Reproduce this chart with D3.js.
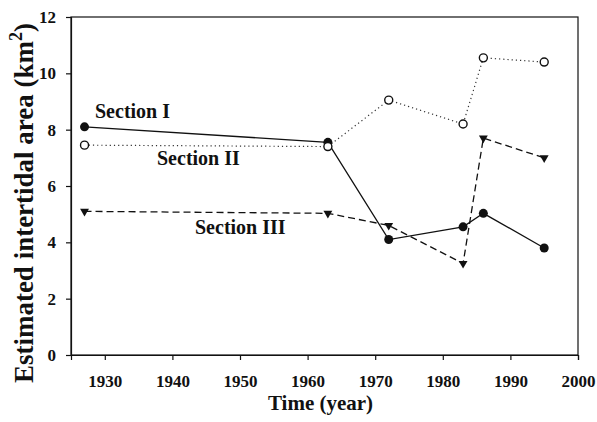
<!DOCTYPE html>
<html>
<head>
<meta charset="utf-8">
<script src="https://cdn.jsdelivr.net/npm/d3@7"></script>
<style>
  body { margin: 0; background: #fff; }
  text { font-family: "Liberation Serif", "Times New Roman", serif; font-weight: bold; fill: #111; }
</style>
</head>
<body>
<div id="chart"></div>
<script>
// values
var years = [1927, 1963, 1972, 1983, 1986, 1995];
var section1 = [8.1, 7.55, 4.1, 4.55, 5.03, 3.8];
var section2 = [7.45, 7.4, 9.05, 8.2, 10.55, 10.4];
var section3 = [5.1, 5.03, 4.6, 3.25, 7.7, 7.0];
var xTicks = [1930, 1940, 1950, 1960, 1970, 1980, 1990, 2000];
var yTicks = [0, 2, 4, 6, 8, 10, 12];

var width = 597, height = 422;
var plotLeft = 71, plotRight = 578, plotTop = 17, plotBottom = 355;

var svg = d3.select("#chart").append("svg")
  .attr("width", width)
  .attr("height", height);

var x = d3.scaleLinear().domain([1925, 2000]).range([plotLeft, plotRight]);
var y = d3.scaleLinear().domain([0, 12]).range([plotBottom, plotTop]);

// frame
svg.append("rect")
  .attr("x", plotLeft).attr("y", plotTop)
  .attr("width", plotRight - plotLeft).attr("height", plotBottom - plotTop)
  .attr("fill", "none").attr("stroke", "#111").attr("stroke-width", 1.2);

// axes
var xAxis = svg.append("g")
  .attr("transform", "translate(0," + plotBottom + ")")
  .call(d3.axisBottom(x).tickValues(xTicks).tickFormat(d3.format("d"))
    .tickSize(5).tickPadding(15));
var yAxis = svg.append("g")
  .attr("transform", "translate(" + plotLeft + ",0)")
  .call(d3.axisLeft(y).tickValues(yTicks).tickSize(5).tickPadding(10));

[xAxis, yAxis].forEach(function (g) {
  g.select(".domain").attr("stroke", "#111").attr("stroke-width", 1.2);
  g.selectAll(".tick line").attr("stroke", "#111").attr("stroke-width", 1.2);
  g.selectAll(".tick text")
    .style("font-family", "'Liberation Serif', 'Times New Roman', serif")
    .style("font-weight", "bold")
    .style("font-size", "17px")
    .attr("fill", "#111");
});

// axis titles
svg.append("text")
  .attr("x", (plotLeft + plotRight) / 2 - 4)
  .attr("y", 410)
  .attr("text-anchor", "middle")
  .style("font-size", "21px")
  .text("Time (year)");

var yTitle = svg.append("text")
  .attr("transform", "translate(33,203) rotate(-90)")
  .attr("text-anchor", "middle")
  .style("font-size", "27px");
yTitle.append("tspan").text("Estimated intertidal area (km");
yTitle.append("tspan").attr("dy", -11).style("font-size", "18px").text("2");
yTitle.append("tspan").attr("dy", 11).text(")");

function pts(vals) {
  return years.map(function (d, i) { return [d, vals[i]]; });
}

var line = d3.line()
  .x(function (d) { return x(d[0]); })
  .y(function (d) { return y(d[1]); });

// Section II (dotted, open circles)
svg.append("path")
  .datum(pts(section2))
  .attr("d", line)
  .attr("fill", "none")
  .attr("stroke", "#333")
  .attr("stroke-width", 1.2)
  .attr("stroke-dasharray", "1.2,3");

// Section III (dashed, down triangles)
svg.append("path")
  .datum(pts(section3))
  .attr("d", line)
  .attr("fill", "none")
  .attr("stroke", "#111")
  .attr("stroke-width", 1.3)
  .attr("stroke-dasharray", "7,4");

// Section I (solid, filled circles)
svg.append("path")
  .datum(pts(section1))
  .attr("d", line)
  .attr("fill", "none")
  .attr("stroke", "#111")
  .attr("stroke-width", 1.3);

var tri = d3.symbol().type(d3.symbolTriangle).size(34);
svg.selectAll(".s3")
  .data(pts(section3))
  .enter().append("path")
  .attr("class", "s3")
  .attr("d", tri)
  .attr("transform", function (d) { return "translate(" + x(d[0]) + "," + y(d[1]) + ") rotate(180)"; })
  .attr("fill", "#111");

svg.selectAll(".s1")
  .data(pts(section1))
  .enter().append("circle")
  .attr("class", "s1")
  .attr("cx", function (d) { return x(d[0]); })
  .attr("cy", function (d) { return y(d[1]); })
  .attr("r", 4.5)
  .attr("fill", "#111");

svg.selectAll(".s2")
  .data(pts(section2))
  .enter().append("circle")
  .attr("class", "s2")
  .attr("cx", function (d) { return x(d[0]); })
  .attr("cy", function (d) { return y(d[1]); })
  .attr("r", 4)
  .attr("fill", "#fff")
  .attr("stroke", "#111")
  .attr("stroke-width", 1.4);

// series labels
svg.append("text").attr("x", 95).attr("y", 118).style("font-size", "20px").text("Section I");
svg.append("text").attr("x", 157).attr("y", 165).style("font-size", "20px").text("Section II");
svg.append("text").attr("x", 195).attr("y", 234).style("font-size", "20px").text("Section III");
</script>
</body>
</html>
